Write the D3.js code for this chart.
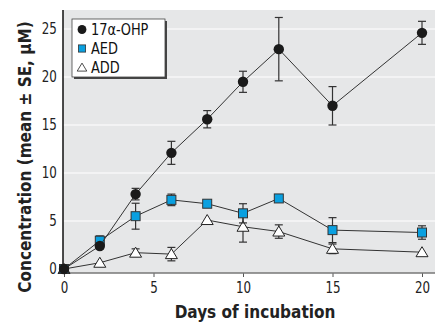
<!DOCTYPE html>
<html>
<head>
<meta charset="utf-8">
<script src="https://cdn.jsdelivr.net/npm/d3@7"></script>
<style>
  body { margin: 0; background: #fff; }
  text { font-family: "Liberation Sans Narrow", "DejaVu Sans Condensed", "Arial Narrow", sans-serif; }
</style>
</head>
<body>
<div id="chart"></div>
<script>
const days = [0, 2, 4, 6, 8, 10, 12, 15, 20];

const ohpMean = [0, 2.4, 7.8, 12.1, 15.6, 19.5, 22.9, 17.0, 24.6];
const ohpSE = [0, 0.3, 0.6, 1.2, 0.9, 1.1, 3.3, 2.0, 1.2];

const aedMean = [0, 2.95, 5.5, 7.2, 6.8, 5.8, 7.35, 4.05, 3.8];
const aedSE = [0, 0.5, 1.35, 0.6, 0, 1.0, 0, 1.3, 0.7];

const addMean = [0, 0.65, 1.7, 1.55, 5.1, 4.4, 3.9, 2.1, 1.75];
const addSE = [0, 0, 0.4, 0.7, 0, 1.6, 0.7, 0.5, 0];

const xTicks = [0, 5, 10, 15, 20];
const yTicks = [0, 5, 10, 15, 20, 25];

const width = 437, height = 327;
const plot = { left: 63, right: 435, top: 10, bottom: 273 };

const svg = d3.select("#chart").append("svg")
  .attr("width", width)
  .attr("height", height);

const x = d3.scaleLinear().domain([0, 20]).range([64, 422]);
const y = d3.scaleLinear().domain([0, 25]).range([269, 29]);

// grey panel
svg.append("rect")
  .attr("x", plot.left)
  .attr("y", plot.top)
  .attr("width", plot.right - plot.left)
  .attr("height", plot.bottom - plot.top)
  .attr("fill", "#e6e7e8");

// white gridlines
svg.append("g")
  .selectAll("line")
  .data(yTicks.filter(d => d > 0))
  .enter()
  .append("line")
  .attr("x1", plot.left)
  .attr("x2", plot.right)
  .attr("y1", d => y(d))
  .attr("y2", d => y(d))
  .attr("stroke", "#fff")
  .attr("stroke-width", 1.2);

// x axis
const xAxis = svg.append("g")
  .attr("transform", `translate(0,${plot.bottom})`)
  .call(d3.axisBottom(x).tickValues(xTicks).tickSize(4).tickPadding(5).tickSizeOuter(0));
xAxis.select(".domain").remove();
xAxis.selectAll(".tick line").attr("stroke", "#555");
xAxis.selectAll(".tick text")
  .style("font-size", "15px")
  .attr("transform", "scale(0.88,1)")
  .attr("fill", "#222");

svg.append("line")
  .attr("x1", plot.left)
  .attr("x2", plot.right)
  .attr("y1", plot.bottom)
  .attr("y2", plot.bottom)
  .attr("stroke", "#777")
  .attr("stroke-width", 1.5);

// y axis
const yAxis = svg.append("g")
  .attr("transform", `translate(${plot.left},0)`)
  .call(d3.axisLeft(y).tickValues(yTicks).tickSize(0).tickPadding(7));
yAxis.select(".domain").remove();
yAxis.selectAll(".tick text")
  .style("font-size", "15px")
  .attr("transform", "scale(0.88,1)")
  .attr("fill", "#222");

svg.append("line")
  .attr("x1", plot.left)
  .attr("x2", plot.left)
  .attr("y1", plot.top)
  .attr("y2", plot.bottom)
  .attr("stroke", "#111")
  .attr("stroke-width", 1.5);

// axis titles
svg.append("text")
  .attr("x", (plot.left + plot.right) / 2 + 6)
  .attr("y", 318)
  .attr("text-anchor", "middle")
  .style("font-size", "17px")
  .style("font-weight", "bold")
  .attr("fill", "#222")
  .text("Days of incubation");

svg.append("text")
  .attr("transform", "translate(31,157) rotate(-90)")
  .attr("text-anchor", "middle")
  .style("font-size", "17px")
  .style("font-weight", "bold")
  .attr("fill", "#222")
  .text("Concentration (mean \u00b1 SE, \u00b5M)");

const series = [
  { name: "ADD", mean: addMean, se: addSE, shape: "triangle" },
  { name: "AED", mean: aedMean, se: aedSE, shape: "square" },
  { name: "17\u03b1-OHP", mean: ohpMean, se: ohpSE, shape: "circle" }
];

const line = d3.line()
  .x(d => x(d.day))
  .y(d => y(d.mean));

function drawMarker(g, shape) {
  if (shape === "circle") {
    g.append("circle").attr("r", 5.2).attr("fill", "#1a1a1a");
  } else if (shape === "square") {
    g.append("rect")
      .attr("x", -4.5).attr("y", -4.5)
      .attr("width", 9).attr("height", 9)
      .attr("fill", "#0aa0e0")
      .attr("stroke", "#333")
      .attr("stroke-width", 1);
  } else {
    g.append("path")
      .attr("d", "M0,-5.5L6,4.5L-6,4.5Z")
      .attr("fill", "#fff")
      .attr("stroke", "#222")
      .attr("stroke-width", 1);
  }
}

series.forEach(s => {
  const pts = days.map((d, i) => ({ day: d, mean: s.mean[i], se: s.se[i] }));

  svg.append("path")
    .datum(pts)
    .attr("fill", "none")
    .attr("stroke", "#333")
    .attr("stroke-width", 1)
    .attr("d", line);

  const bars = svg.append("g")
    .selectAll("g")
    .data(pts.filter(p => p.se > 0))
    .enter()
    .append("g")
    .attr("stroke", "#333")
    .attr("stroke-width", 1.2);
  bars.append("line")
    .attr("x1", d => x(d.day)).attr("x2", d => x(d.day))
    .attr("y1", d => y(d.mean - d.se)).attr("y2", d => y(d.mean + d.se));
  bars.append("line")
    .attr("x1", d => x(d.day) - 4).attr("x2", d => x(d.day) + 4)
    .attr("y1", d => y(d.mean + d.se)).attr("y2", d => y(d.mean + d.se));
  bars.append("line")
    .attr("x1", d => x(d.day) - 4).attr("x2", d => x(d.day) + 4)
    .attr("y1", d => y(d.mean - d.se)).attr("y2", d => y(d.mean - d.se));

  pts.forEach(p => {
    const g = svg.append("g").attr("transform", `translate(${x(p.day)},${y(p.mean)})`);
    drawMarker(g, s.shape);
  });
});

// legend
const legend = svg.append("g").attr("transform", "translate(72,19)");
legend.append("rect")
  .attr("x", 2).attr("y", 2)
  .attr("width", 93).attr("height", 58)
  .attr("fill", "#444");
legend.append("rect")
  .attr("width", 93).attr("height", 58)
  .attr("fill", "#fff")
  .attr("stroke", "#444")
  .attr("stroke-width", 0.8);

const legendItems = [series[2], series[1], series[0]];
legendItems.forEach((s, i) => {
  const item = legend.append("g").attr("transform", `translate(10,${10.5 + i * 19})`);
  const m = item.append("g").attr("transform", s.shape === "circle" ? "scale(0.85)" : "scale(0.8)");
  drawMarker(m, s.shape);
  item.append("text")
    .attr("x", 10)
    .attr("y", 5.5)
    .attr("transform", "scale(0.9,1)")
    .style("font-size", "16px")
    .attr("fill", "#111")
    .text(s.name);
});
</script>
</body>
</html>
